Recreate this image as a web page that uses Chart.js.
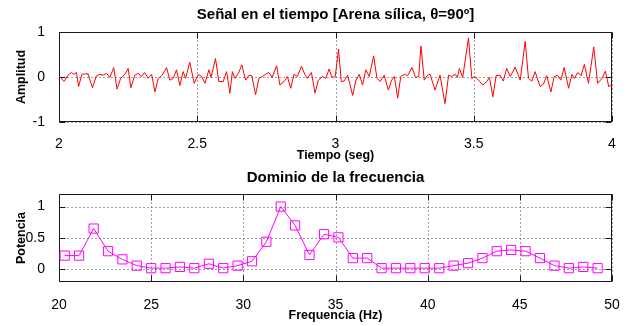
<!DOCTYPE html>
<html><head><meta charset="utf-8">
<script src="https://cdn.jsdelivr.net/npm/chart.js@4.4.0/dist/chart.umd.min.js"></script>
<style>
html,body{margin:0;padding:0;background:#fff;overflow:hidden;}
.wrap{position:absolute;left:0;width:630px;height:163px;}
</style></head><body>
<div class="wrap" style="top:0"><canvas id="c1" width="630" height="163"></canvas></div>
<div class="wrap" style="top:163px"><canvas id="c2" width="630" height="163"></canvas></div>
<script>
// ---- Señal en el tiempo ----
const timeSec = [
 2.000,2.018,2.033,2.045,2.053,2.063,2.071,2.083,2.093,2.105,2.121,2.135,2.147,2.159,2.172,2.184,2.198,2.210,2.223,2.238,
 2.250,2.260,2.274,2.286,2.298,2.310,2.322,2.335,2.347,2.359,2.373,2.389,2.401,2.413,2.425,2.437,2.449,2.458,2.473,2.489,
 2.504,2.516,2.528,2.542,2.550,2.566,2.578,2.594,2.606,2.618,2.627,2.636,2.649,2.661,2.675,2.687,2.697,2.711,2.723,2.735,
 2.747,2.759,2.771,2.787,2.799,2.814,2.826,2.838,2.850,2.862,2.877,2.889,2.898,2.913,2.926,2.938,2.953,2.965,2.977,2.987,
 2.999,3.011,3.021,3.031,3.044,3.062,3.074,3.086,3.098,3.110,3.122,3.138,3.150,3.162,3.176,3.191,3.203,3.213,3.225,3.236,
 3.249,3.261,3.277,3.289,3.301,3.309,3.321,3.333,3.342,3.360,3.378,3.396,3.409,3.420,3.433,3.441,3.448,3.460,3.481,3.493,
 3.505,3.517,3.533,3.547,3.557,3.569,3.581,3.595,3.607,3.619,3.632,3.650,3.668,3.686,3.698,3.710,3.722,3.740,3.752,3.764,
 3.779,3.791,3.803,3.815,3.827,3.843,3.855,3.864,3.876,3.888,3.900,3.915,3.934,3.948,3.964,3.976,3.988,4.000
];
const amplitud = [
 0.03,-0.10,0.04,0.10,0.06,0.10,-0.21,0.06,0.07,0.07,-0.24,0.02,0.06,0.04,0.08,-0.01,0.21,-0.27,-0.03,0.06,
 0.19,-0.24,0.04,0.08,0.01,0.10,-0.03,0.06,-0.33,-0.03,0.04,0.21,-0.07,-0.03,0.16,-0.19,0.12,-0.03,0.33,-0.14,
 0.06,0.01,-0.14,0.16,-0.01,0.41,-0.10,-0.10,0.12,-0.36,0.12,-0.03,0.08,0.27,-0.07,0.04,0.03,-0.39,-0.03,0.01,
 0.06,0.10,-0.01,0.25,-0.18,-0.10,0.01,-0.25,0.06,0.01,0.24,0.06,-0.03,0.10,-0.36,-0.07,0.01,-0.03,0.18,-0.01,
 0.01,0.62,-0.10,-0.09,0.04,-0.41,-0.07,0.06,-0.18,0.16,0.01,0.47,-0.03,-0.10,0.04,-0.29,-0.07,0.01,-0.47,0.01,
 0.06,0.03,0.21,-0.01,0.01,0.69,-0.07,0.04,0.06,-0.29,0.04,-0.59,0.04,0.01,0.06,-0.01,0.19,-0.01,0.87,-0.03,
 0.01,-0.07,-0.18,-0.10,-0.01,-0.44,0.03,0.04,-0.09,0.19,0.01,0.22,-0.07,0.79,-0.03,-0.09,0.12,-0.21,-0.16,0.03,
 -0.33,0.01,0.04,-0.07,0.21,-0.25,0.06,-0.03,0.10,0.03,0.28,-0.14,0.67,-0.14,-0.03,0.13,-0.21,-0.18
];
const timeTicks = [2, 2.5, 3, 3.5, 4];
const ampTicks = [-1, 0, 1];

// ---- Dominio de la frecuencia ----
const freqHz = [
 20.31,21.09,21.88,22.66,23.44,24.22,25.00,25.78,26.56,27.34,28.13,28.91,29.69,30.47,31.25,32.03,32.81,33.59,34.38,
 35.16,35.94,36.72,37.50,38.28,39.06,39.84,40.63,41.41,42.19,42.97,43.75,44.53,45.31,46.09,46.88,47.66,48.44,49.22
];
const potencia = [
 0.22,0.22,0.65,0.29,0.16,0.06,0.02,0.02,0.04,0.02,0.09,0.02,0.06,0.13,0.44,1.00,0.70,0.23,0.56,
 0.51,0.18,0.18,0.02,0.02,0.02,0.02,0.02,0.06,0.10,0.18,0.29,0.31,0.29,0.18,0.06,0.02,0.04,0.02
];
const freqTicks = [20, 25, 30, 35, 40, 45, 50];
const potTicks = [0, 0.5, 1];

Chart.defaults.font.family = '"Liberation Sans", Arial, Helvetica, sans-serif';
Chart.defaults.color = '#000';

function axesPlugin(xt, yt) {
  return {
    id: 'matlabAxes',
    beforeDatasetsDraw(chart) {
      const {ctx, chartArea: a, scales: {x, y}} = chart;
      const L = Math.round(a.left) + 0.5, R = Math.round(a.right) - 0.5;
      const T = Math.round(a.top) + 0.5, B = Math.round(a.bottom) - 0.5;
      ctx.save();
      ctx.lineWidth = 1;
      ctx.strokeStyle = '#404040';
      ctx.setLineDash([1, 3]);
      ctx.beginPath();
      xt.forEach(v => { const p = Math.round(x.getPixelForValue(v)) + 0.5; ctx.moveTo(p, T); ctx.lineTo(p, B); });
      yt.forEach(v => { const p = Math.round(y.getPixelForValue(v)) + 0.5; ctx.moveTo(L, p); ctx.lineTo(R, p); });
      ctx.stroke();
      ctx.setLineDash([]);
      ctx.strokeStyle = '#1a1a1a';
      ctx.beginPath();
      const tl = 6;
      xt.forEach(v => { const p = Math.round(x.getPixelForValue(v)) + 0.5; ctx.moveTo(p, T); ctx.lineTo(p, T + tl); ctx.moveTo(p, B); ctx.lineTo(p, B - tl); });
      yt.forEach(v => { const p = Math.round(y.getPixelForValue(v)) + 0.5; ctx.moveTo(L, p); ctx.lineTo(L + tl, p); ctx.moveTo(R, p); ctx.lineTo(R - tl, p); });
      ctx.stroke();
      ctx.strokeRect(L, T, R - L, B - T);
      ctx.restore();
    }
  };
}

function makeChart(id, cfg) {
  return new Chart(document.getElementById(id), {
    type: 'line',
    data: { datasets: [cfg.dataset] },
    plugins: [axesPlugin(cfg.xTicks, cfg.yTicks)],
    options: {
      responsive: false,
      animation: false,
      layout: { padding: { left: 0, right: 18, top: 0, bottom: 0 } },
      plugins: {
        legend: { display: false },
        tooltip: { enabled: false },
        title: {
          display: true, fullSize: false, text: cfg.title, color: '#000',
          font: { size: 15, weight: 'bold' }, padding: cfg.titlePad
        }
      },
      scales: {
        x: {
          type: 'linear', min: cfg.xMin, max: cfg.xMax,
          afterBuildTicks: s => { s.ticks = cfg.xTicks.map(v => ({ value: v })); },
          ticks: { color: '#000', font: { size: 14 }, padding: cfg.xTickPad, maxRotation: 0, autoSkip: false, callback: v => String(v) },
          grid: { display: false }, border: { display: false },
          title: { display: true, text: cfg.xTitle, color: '#000', font: { size: 12.5, weight: 'bold' }, padding: { top: 0, bottom: cfg.xTitlePad } },
          afterFit: s => { s.height = cfg.xHeight; }
        },
        y: {
          type: 'linear', min: cfg.yMin, max: cfg.yMax,
          afterBuildTicks: s => { s.ticks = cfg.yTicks.map(v => ({ value: v })); },
          ticks: { color: '#000', font: { size: 14 }, padding: 6, autoSkip: false, callback: v => String(v) },
          grid: { display: false }, border: { display: false },
          title: { display: true, text: cfg.yTitle, color: '#000', font: { size: 12.5, weight: 'bold' }, padding: { top: 14.5, bottom: 0 } },
          afterFit: s => { s.width = 59; }
        }
      }
    }
  });
}

makeChart('c1', {
  title: 'Señal en el tiempo [Arena sílica, θ=90º]',
  titlePad: { top: 6, bottom: 8 },
  xTitle: 'Tiempo (seg)', yTitle: 'Amplitud',
  xMin: 2, xMax: 4, yMin: -1, yMax: 1,
  xTicks: timeTicks, yTicks: ampTicks,
  xTickPad: 6, xTitlePad: 0, xHeight: 41,
  dataset: {
    data: timeSec.map((t, i) => ({ x: t, y: amplitud[i] })),
    borderColor: '#ff0000', borderWidth: 1, pointRadius: 0, tension: 0, fill: false
  }
});

makeChart('c2', {
  title: 'Dominio de la frecuencia',
  titlePad: { top: 6, bottom: 7 },
  xTitle: 'Frequencia (Hz)', yTitle: 'Potencia',
  xMin: 20, xMax: 50, yMin: -0.2, yMax: 1.2,
  xTicks: freqTicks, yTicks: potTicks,
  xTickPad: 7, xTitlePad: 2.5, xHeight: 44,
  dataset: {
    data: freqHz.map((f, i) => ({ x: f, y: potencia[i] })),
    borderColor: '#ff00ff', borderWidth: 1, tension: 0, fill: false,
    pointStyle: 'rect', pointRadius: 6.5, pointBorderWidth: 1,
    pointBorderColor: '#ff00ff', pointBackgroundColor: 'rgba(0,0,0,0)'
  }
});
</script>
</body></html>
